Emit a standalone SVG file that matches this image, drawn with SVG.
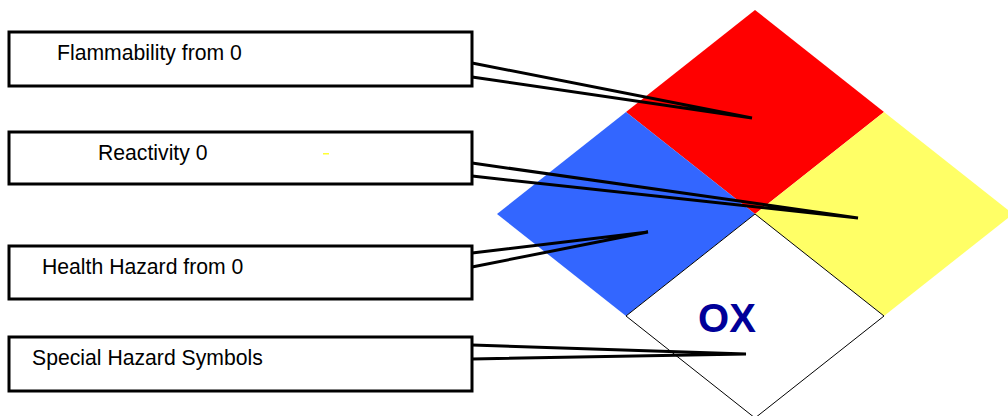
<svg xmlns="http://www.w3.org/2000/svg" width="1008" height="416" viewBox="0 0 1008 416">
<style>
.box{fill:#fff;stroke:#000;stroke-width:3;stroke-linejoin:miter}
.lbl{font-family:"Liberation Sans",Arial,sans-serif;font-size:21.2px;fill:#000}
.con{fill:none;stroke:#000;stroke-width:3;stroke-linejoin:miter;stroke-miterlimit:20}
</style>
<rect width="1008" height="416" fill="#fff"/>
<g id="diamond-red"><polygon points="755,10 884,112 755,214 626,112" fill="#ff0000"/></g>
<g id="diamond-blue"><polygon points="626,112 755,214 626,316 497,214" fill="#3366ff"/></g>
<g id="diamond-yellow"><polygon points="884,112 1013,214 884,316 755,214" fill="#ffff66"/></g>
<g id="diamond-white"><polygon points="755,214 884,316 755,418 626,316" fill="#fff" stroke="#000" stroke-width="1"/>
<text x="727" y="332" text-anchor="middle" font-family="Liberation Sans, Arial, sans-serif" font-weight="bold" font-size="40" fill="#000099">OX</text></g>
<g id="connectors">
<path class="con" d="M472,63 L752,118 L472,77"/>
<path class="con" d="M472,163 L858,218 L472,176"/>
<path class="con" d="M472,253 L648,232 L472,267"/>
<path class="con" d="M472,345 L746,354 L472,359"/>
</g>
<g id="box-flammability"><path class="box" d="M472,63 L472,32 L9,32 L9,86 L472,86 L472,77 Z"/>
<text class="lbl" x="57" y="60">Flammability from 0</text></g>
<g id="box-reactivity"><path class="box" d="M472,163 L472,132 L9,132 L9,184 L472,184 L472,176 Z"/>
<text class="lbl" x="98" y="160">Reactivity 0</text>
<rect x="323" y="153" width="6" height="1.5" fill="#ffff33"/></g>
<g id="box-health"><path class="box" d="M472,253 L472,246 L9,246 L9,299 L472,299 L472,267 Z"/>
<text class="lbl" x="42" y="274">Health Hazard from 0</text></g>
<g id="box-special"><path class="box" d="M472,345 L472,337 L9,337 L9,391 L472,391 L472,359 Z"/>
<text class="lbl" x="32" y="365">Special Hazard Symbols</text></g>
</svg>
